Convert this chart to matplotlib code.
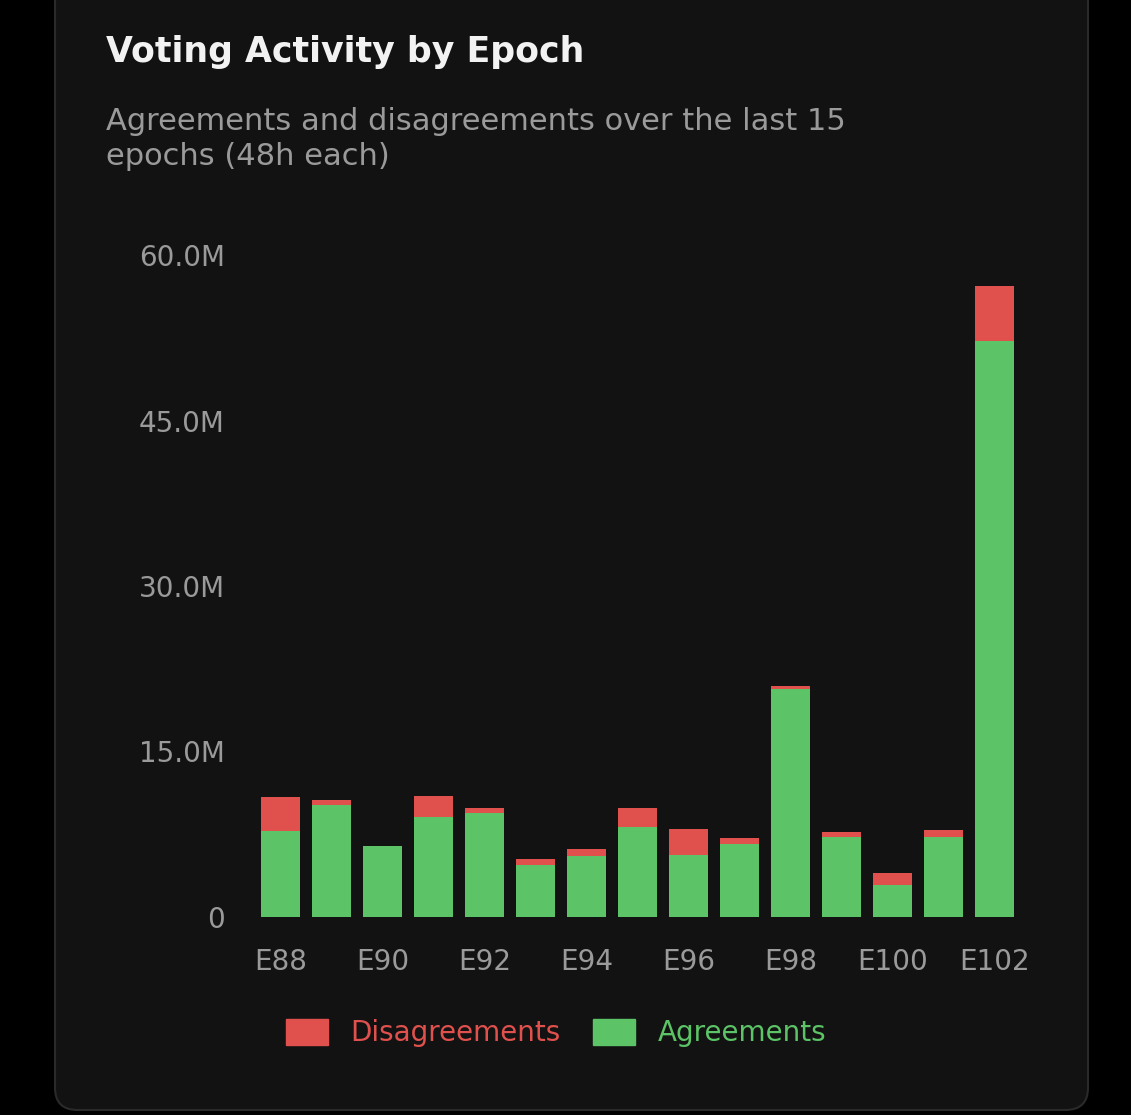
import matplotlib
matplotlib.use('Agg')
import matplotlib.pyplot as plt
from matplotlib.patches import FancyBboxPatch, Patch

# data (millions)
epochs = ["E88", "E89", "E90", "E91", "E92", "E93", "E94", "E95",
          "E96", "E97", "E98", "E99", "E100", "E101", "E102"]
agreements = [7.8, 10.15, 6.4, 9.07, 9.4, 4.7, 5.5, 8.15, 5.6, 6.6, 20.7, 7.25, 2.9, 7.25, 52.2]
disagreements = [3.1, 0.45, 0.0, 1.93, 0.5, 0.55, 0.7, 1.75, 2.4, 0.6, 0.2, 0.45, 1.1, 0.65, 5.0]

GREEN = "#5cc466"
RED = "#e0514e"
GREY = "#9a9a9a"

W, H = 1131, 1115
fig = plt.figure(figsize=(W / 100, H / 100), dpi=100, facecolor="#000000")

# card background
card = FancyBboxPatch((55 / W, 5 / H), (1088 - 55) / W, 1.2, transform=fig.transFigure,
                      boxstyle="round,pad=0,rounding_size=0.02", facecolor="#121212",
                      edgecolor="#2a2a2a", linewidth=1.5, zorder=-10)
fig.patches.append(card)

fig.text(106 / W, 1 - 52 / H, "Voting Activity by Epoch", color="#f2f2f2",
         fontsize=25, fontweight="bold", va="center")
fig.text(106 / W, 1 - 139 / H, "Agreements and disagreements over the last 15\nepochs (48h each)",
         color=GREY, fontsize=22, va="center", linespacing=1.3)

ax = fig.add_axes([250 / W, 1 - 917 / H, 775 / W, (917 - 255) / H])
ax.set_zorder(5)
ax.patch.set_alpha(0)
x = list(range(len(epochs)))
ax.bar(x, agreements, width=0.78, color=GREEN)
ax.bar(x, disagreements, width=0.78, bottom=agreements, color=RED)

ax.set_xlim(-0.6, 14.6)
ax.set_ylim(0, 60)
ax.set_yticks([0, 15, 30, 45, 60])
ax.set_yticklabels(["0", "15.0M", "30.0M", "45.0M", "60.0M"])
ax.set_xticks(x[::2])
ax.set_xticklabels(epochs[::2])
ax.tick_params(colors=GREY, labelsize=20, length=0, pad=18)
ax.tick_params(axis="x", pad=22)
for s in ax.spines.values():
    s.set_visible(False)

handles = [Patch(color=RED), Patch(color=GREEN)]
leg = fig.legend(handles, ["Disagreements", "Agreements"], loc="center",
                 bbox_to_anchor=(556 / W, 1 - 1033 / H), ncol=2, frameon=False,
                 fontsize=20, handlelength=1.5, handleheight=1.1, columnspacing=1.2)
for t, c in zip(leg.get_texts(), [RED, GREEN]):
    t.set_color(c)

fig.savefig("out.png", dpi=100, facecolor=fig.get_facecolor())
